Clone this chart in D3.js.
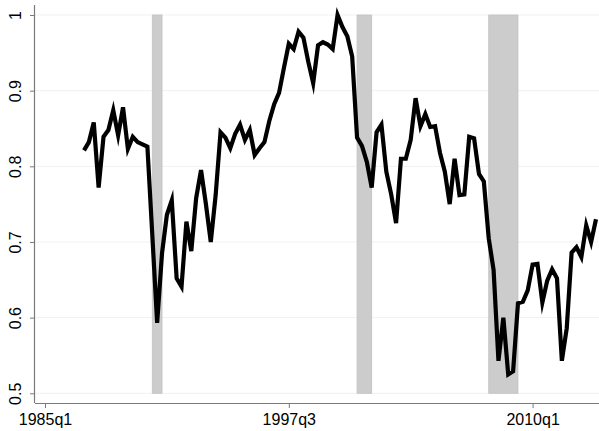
<!DOCTYPE html>
<html>
<head>
<meta charset="utf-8">
<script src="https://cdn.jsdelivr.net/npm/d3@7"></script>
<style>
  body { margin: 0; background: #fff; }
  svg { display: block; font-family: "Liberation Sans", Arial, Helvetica, sans-serif; }
</style>
</head>
<body>
<svg id="chart" width="599" height="431"></svg>
<script>
// quarterly series, 1987q1 .. 2013q2
const startYear = 1987
const values = [
  0.821, 0.832, 0.858, 0.772,   // 1987
  0.839, 0.848, 0.874, 0.841,   // 1988
  0.878, 0.823, 0.839, 0.832,   // 1989
  0.829, 0.826, 0.710, 0.593,   // 1990
  0.685, 0.736, 0.755, 0.652,   // 1991
  0.641, 0.727, 0.688, 0.758,   // 1992
  0.795, 0.750, 0.700, 0.762,   // 1993
  0.845, 0.838, 0.824, 0.843,   // 1994
  0.855, 0.835, 0.848, 0.815,   // 1995
  0.824, 0.832, 0.860, 0.882,   // 1996
  0.897, 0.930, 0.962, 0.955,   // 1997
  0.978, 0.970, 0.938, 0.910,   // 1998
  0.960, 0.964, 0.961, 0.955,   // 1999
  1.000, 0.984, 0.972, 0.945,   // 2000
  0.838, 0.827, 0.806, 0.772,   // 2001
  0.845, 0.855, 0.793, 0.763,   // 2002
  0.725, 0.810, 0.810, 0.835,   // 2003
  0.890, 0.853, 0.869, 0.852,   // 2004
  0.853, 0.818, 0.793, 0.750,   // 2005
  0.810, 0.762, 0.763, 0.839,   // 2006
  0.837, 0.790, 0.780, 0.705,   // 2007
  0.663, 0.543, 0.600, 0.525,   // 2008
  0.529, 0.619, 0.621, 0.636,   // 2009
  0.670, 0.671, 0.620, 0.649,   // 2010
  0.664, 0.652, 0.543, 0.586,   // 2011
  0.686, 0.693, 0.680, 0.722,   // 2012
  0.700, 0.730                  // 2013
]

// recessions as [first quarter, last quarter]
const recessions = [
  ['1990q3', '1991q1'],
  ['2001q1', '2001q4'],
  ['2007q4', '2009q2']
]

const xTickLabels = ['1985q1', '1997q3', '2010q1']
const yTicks = [0.5, 0.6, 0.7, 0.8, 0.9, 1]

// quarters counted from 1985q1
const baseYear = 1985
function qIndex(label) {
  const [y, q] = label.split('q').map(Number)
  return (y - baseYear) * 4 + (q - 1)
}

const data = values.map((v, i) => ({ q: (startYear - baseYear) * 4 + i, v: v }))

const svg = d3.select('#chart')
const plotLeft = 35, plotRight = 599, plotTop = 5, plotBottom = 403

const pxPerQ = (532.6 - 45) / 100
const xScale = d3.scaleLinear()
  .domain([qIndex('1985q1') - (45 - plotLeft) / pxPerQ, (plotRight - 45) / pxPerQ])
  .range([plotLeft, plotRight])
const yScale = d3.scaleLinear()
  .domain([0.5, 1])
  .range([393.3, 15])

// gridlines
svg.append('g')
  .selectAll('line')
  .data(yTicks)
  .join('line')
  .attr('x1', plotLeft)
  .attr('x2', plotRight)
  .attr('y1', d => yScale(d))
  .attr('y2', d => yScale(d))
  .attr('stroke', '#f1f1f1')
  .attr('stroke-width', 1)

// recession shading
svg.append('g')
  .selectAll('rect')
  .data(recessions)
  .join('rect')
  .attr('x', d => xScale(qIndex(d[0])))
  .attr('width', d => xScale(qIndex(d[1])) - xScale(qIndex(d[0])))
  .attr('y', yScale(1))
  .attr('height', yScale(0.5) - yScale(1))
  .attr('fill', '#cccccc')
  .attr('stroke', '#c2c2c2')
  .attr('stroke-width', 0.8)

// the series
const line = d3.line()
  .x(d => xScale(d.q))
  .y(d => yScale(d.v))

svg.append('path')
  .datum(data)
  .attr('d', line)
  .attr('fill', 'none')
  .attr('stroke', '#000')
  .attr('stroke-width', 4.2)
  .attr('stroke-linejoin', 'miter')
  .attr('stroke-miterlimit', 6)

// axes
const xAxis = d3.axisBottom(xScale)
  .tickValues(xTickLabels.map(qIndex))
  .tickFormat((d, i) => xTickLabels[i])
  .tickSize(5)
  .tickSizeOuter(0)
const yAxis = d3.axisLeft(yScale)
  .tickValues(yTicks)
  .tickFormat(d => d === 1 ? '1' : d3.format('.1f')(d))
  .tickSize(5)
  .tickSizeOuter(0)

const gx = svg.append('g')
  .attr('transform', `translate(0,${plotBottom})`)
  .call(xAxis)
gx.select('.domain').attr('d', `M${plotLeft},0.5H${plotRight}`)

const gy = svg.append('g')
  .attr('transform', `translate(${plotLeft},0)`)
  .call(yAxis)
gy.select('.domain').attr('d', `M-0.5,${plotTop}V${plotBottom}`)

svg.selectAll('.domain').attr('stroke', '#7a7a7a').attr('stroke-width', 1.2)
svg.selectAll('.tick line').attr('stroke', '#7a7a7a')
svg.selectAll('.tick text')
  .attr('font-size', 16)
  .attr('font-family', '"Liberation Sans", Arial, sans-serif')
  .attr('fill', '#000')

gx.selectAll('.tick text').attr('dy', null).attr('y', 22)

gy.selectAll('.tick text')
  .attr('x', null)
  .attr('dy', null)
  .attr('text-anchor', 'middle')
  .attr('transform', 'translate(-14,0) rotate(-90)')
</script>
</body>
</html>
